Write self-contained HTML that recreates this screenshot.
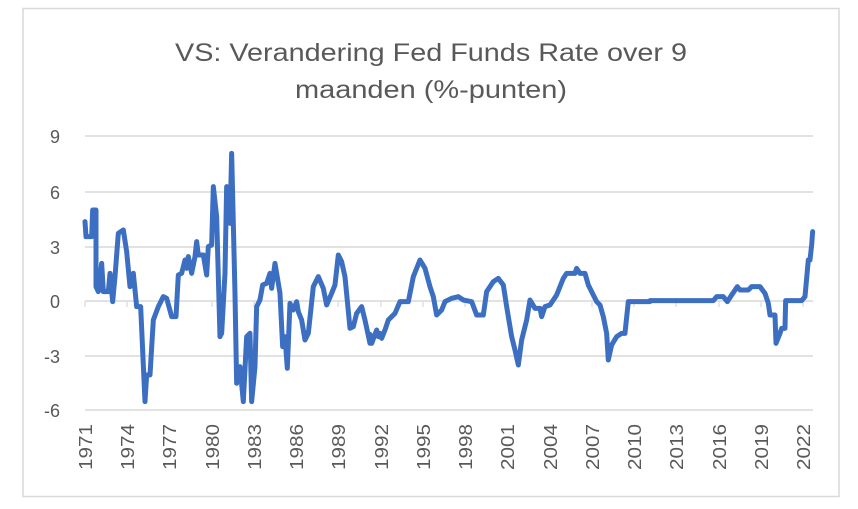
<!DOCTYPE html>
<html><head><meta charset="utf-8"><style>
html,body{margin:0;padding:0;background:#fff;}
svg{display:block;}
text{font-family:"Liberation Sans",sans-serif;fill:#595959;}
</style></head><body>
<svg width="858" height="509" viewBox="0 0 858 509" xmlns="http://www.w3.org/2000/svg">
<rect x="23" y="8.5" width="816" height="488" fill="#fff" stroke="#d9d9d9" stroke-width="1.5"/>
<text x="431" y="61" font-size="25" text-anchor="middle" textLength="512" lengthAdjust="spacingAndGlyphs">VS: Verandering Fed Funds Rate over 9</text>
<text x="431" y="98" font-size="25" text-anchor="middle" textLength="272" lengthAdjust="spacingAndGlyphs">maanden (%-punten)</text>
<g stroke="#d9d9d9" stroke-width="1.5">
<line x1="85" y1="136" x2="813" y2="136"/>
<line x1="85" y1="192" x2="813" y2="192"/>
<line x1="85" y1="247" x2="813" y2="247"/>
<line x1="85" y1="301" x2="813" y2="301"/>
<line x1="85" y1="356" x2="813" y2="356"/>
<line x1="85" y1="410" x2="813" y2="410"/>
</g>
<g stroke="#d9d9d9" stroke-width="1.2">
<line x1="85" y1="301" x2="85" y2="307"/><line x1="127" y1="301" x2="127" y2="307"/><line x1="169" y1="301" x2="169" y2="307"/><line x1="212" y1="301" x2="212" y2="307"/><line x1="254" y1="301" x2="254" y2="307"/><line x1="296" y1="301" x2="296" y2="307"/><line x1="338" y1="301" x2="338" y2="307"/><line x1="381" y1="301" x2="381" y2="307"/><line x1="423" y1="301" x2="423" y2="307"/><line x1="465" y1="301" x2="465" y2="307"/><line x1="507" y1="301" x2="507" y2="307"/><line x1="550" y1="301" x2="550" y2="307"/><line x1="592" y1="301" x2="592" y2="307"/><line x1="634" y1="301" x2="634" y2="307"/><line x1="676" y1="301" x2="676" y2="307"/><line x1="719" y1="301" x2="719" y2="307"/><line x1="761" y1="301" x2="761" y2="307"/><line x1="803" y1="301" x2="803" y2="307"/>
</g>
<g font-size="18" text-anchor="end">
<text x="60" y="143">9</text><text x="60" y="199">6</text><text x="60" y="254">3</text><text x="60" y="308">0</text><text x="60" y="363">-3</text><text x="60" y="417">-6</text>
</g>
<g font-size="18" text-anchor="end">
<text transform="translate(92,424) rotate(-90)" textLength="46" lengthAdjust="spacingAndGlyphs">1971</text>
<text transform="translate(134,424) rotate(-90)" textLength="46" lengthAdjust="spacingAndGlyphs">1974</text>
<text transform="translate(176,424) rotate(-90)" textLength="46" lengthAdjust="spacingAndGlyphs">1977</text>
<text transform="translate(219,424) rotate(-90)" textLength="46" lengthAdjust="spacingAndGlyphs">1980</text>
<text transform="translate(261,424) rotate(-90)" textLength="46" lengthAdjust="spacingAndGlyphs">1983</text>
<text transform="translate(303,424) rotate(-90)" textLength="46" lengthAdjust="spacingAndGlyphs">1986</text>
<text transform="translate(345,424) rotate(-90)" textLength="46" lengthAdjust="spacingAndGlyphs">1989</text>
<text transform="translate(388,424) rotate(-90)" textLength="46" lengthAdjust="spacingAndGlyphs">1992</text>
<text transform="translate(430,424) rotate(-90)" textLength="46" lengthAdjust="spacingAndGlyphs">1995</text>
<text transform="translate(472,424) rotate(-90)" textLength="46" lengthAdjust="spacingAndGlyphs">1998</text>
<text transform="translate(514,424) rotate(-90)" textLength="46" lengthAdjust="spacingAndGlyphs">2001</text>
<text transform="translate(557,424) rotate(-90)" textLength="46" lengthAdjust="spacingAndGlyphs">2004</text>
<text transform="translate(599,424) rotate(-90)" textLength="46" lengthAdjust="spacingAndGlyphs">2007</text>
<text transform="translate(641,424) rotate(-90)" textLength="46" lengthAdjust="spacingAndGlyphs">2010</text>
<text transform="translate(683,424) rotate(-90)" textLength="46" lengthAdjust="spacingAndGlyphs">2013</text>
<text transform="translate(726,424) rotate(-90)" textLength="46" lengthAdjust="spacingAndGlyphs">2016</text>
<text transform="translate(768,424) rotate(-90)" textLength="46" lengthAdjust="spacingAndGlyphs">2019</text>
<text transform="translate(810,424) rotate(-90)" textLength="46" lengthAdjust="spacingAndGlyphs">2022</text>
</g>
<g fill="none" stroke="#3c6fc1" stroke-width="5" stroke-linejoin="round" stroke-linecap="round">
<polyline transform="translate(70,120) scale(0.3333)" vector-effect="non-scaling-stroke" points="45,305 48,350 65,350 68,270 78,270 78,500 85,515 95,430 100,515 115,515 120,460 128,545 135,470 145,340 160,330 170,395 180,500 190,460 200,560 212,560 225,845 230,765 240,765 250,600 265,560 280,530 290,535 305,590 318,590 325,465 335,460 345,420 350,445 355,410 365,460 375,410 380,365 385,405 400,405 410,465 415,380 425,375 430,200 440,290 450,650 455,640 465,460 470,200 480,310 485,100 490,310 495,520 500,790 510,740 520,845 530,650 540,640 545,845 555,740 560,560 570,540 578,495 590,490 600,460 605,505 615,430 630,520 638,680 645,650 652,745 660,550 670,570 680,545 685,575 695,600 705,660 715,640 730,500 745,470 760,505 770,555 785,520 795,495 805,405 815,425 825,470 840,625 850,620 860,580 875,560 885,600 900,670"/>
<polyline transform="translate(330,220) scale(0.3333)" vector-effect="non-scaling-stroke" points="120,343 125,370 140,330 145,350 150,340 155,355 165,330 175,300 195,280 210,245 235,245 250,170 270,120 285,145 300,200 310,230 320,285 335,270 345,245 365,235 385,230 400,240 425,245 440,285 460,285 470,215 490,185 505,175 520,195 530,260 545,350 555,390 565,435 575,360 590,300 600,240 615,265 630,265 635,290 645,260 660,255 680,225 700,175 710,160 735,160 740,145 750,160 765,160 775,195 790,225 800,245 810,255 820,290 830,340 835,420 845,375 860,350 875,340 885,340 895,245 960,245"/>
<polyline transform="translate(640,200) scale(0.3333)" vector-effect="non-scaling-stroke" points="30,302 220,302 230,290 250,290 262,305 275,285 292,260 300,270 325,270 335,260 360,260 375,280 385,310 390,345 405,345 408,430 420,400 425,385 435,385 437,302 485,302 495,290 505,180 510,180 515,135 518,95"/>
</g>
</svg>
</body></html>
